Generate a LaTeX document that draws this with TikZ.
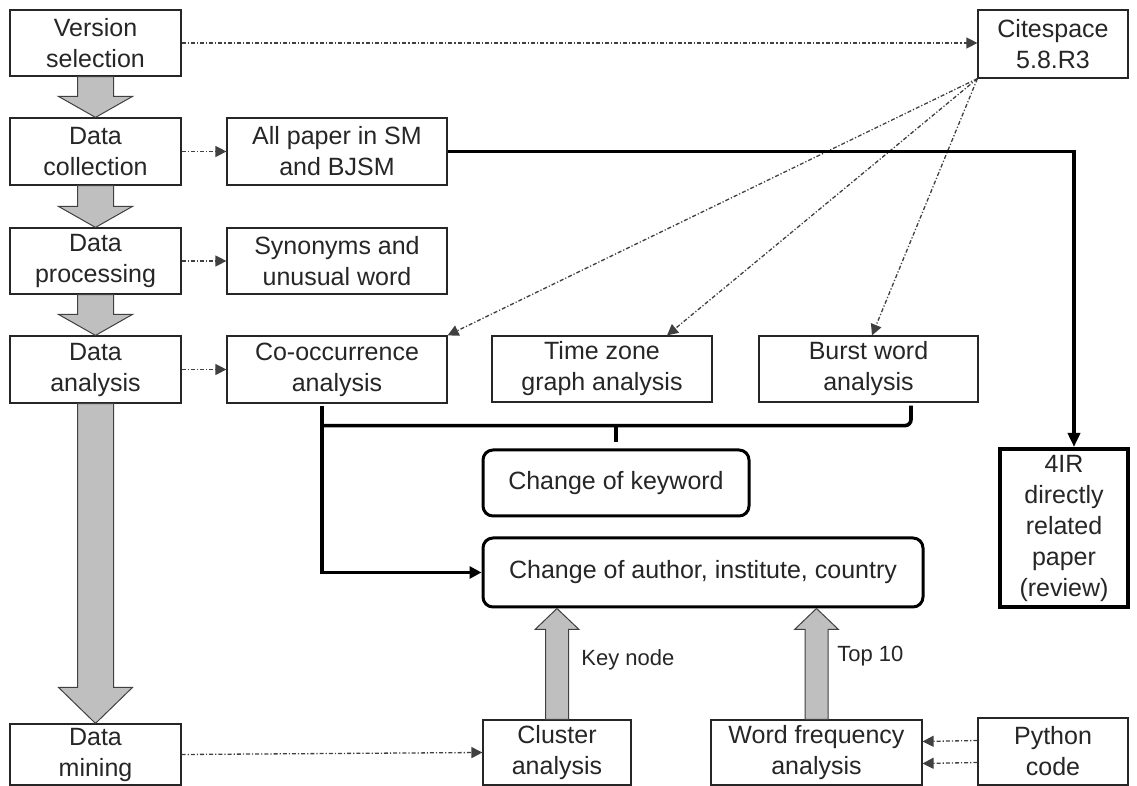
\documentclass[tikz,border=0pt]{standalone}
\usepackage{fontspec}
\setmainfont{Liberation Sans}
\usetikzlibrary{arrows.meta,calc}
\newcommand\blkdown[3]{%
  \draw[blk] ($(#1.south)+(-18,0)$) -- ($(#2.north)+(-18,-#3)$) -- ($(#2.north)+(-37,-#3)$) -- (#2.north) -- ($(#2.north)+(37,-#3)$) -- ($(#2.north)+(18,-#3)$) -- ($(#1.south)+(18,0)$) -- cycle;}
\newcommand\blkup[2]{%
  \draw[blk] ($(#1)+(-11.5,0)$) -- ($(#2)+(-11.5,21)$) -- ($(#2)+(-22,21)$) -- (#2) -- ($(#2)+(22,21)$) -- ($(#2)+(11.5,21)$) -- ($(#1)+(11.5,0)$) -- cycle;}
\begin{document}
\begin{tikzpicture}[x=0.5pt,y=-0.5pt,
  bx/.style 2 args={draw=black!85, line width=0.6pt, minimum width=#1*0.5pt, minimum height=#2*0.5pt, inner sep=0pt, align=center, font=\fontsize{12.5}{15.5}\selectfont, text=black!85},
  rbx/.style 2 args={bx={#1}{#2}, line width=1.5pt, draw=black, rounded corners=5pt},
  dd/.style={draw=black!75, line width=0.65pt, dash pattern=on 2pt off 1pt on 0.6pt off 1pt, -{Triangle[length=5.5pt,width=5.5pt]}},
  thk/.style={draw=black, line width=1.8pt},
  blk/.style={fill=black!25, draw=black!75, line width=0.5pt},
  lbl/.style={font=\fontsize{11}{13}\selectfont, text=black!85, anchor=west, inner sep=0pt}
]
\fill[white] (0,0) rectangle (1137,786);
\useasboundingbox (0,0) rectangle (1137,786);

% nodes
\node[bx={171}{66}] (vs) at (95.5,43) {Version\\selection};
\node[bx={171}{67}] (dc) at (95.5,151.5) {Data\\collection};
\node[bx={171}{66}] (dp) at (95.5,261) {Data\\processing};
\node[bx={171}{67}] (da) at (95.5,369.5) {Data\\analysis};
\node[bx={171}{61}] (dm) at (95.5,754.5) {Data\\mining};
\node[bx={220}{67}] (ap) at (337,151.5) {All paper in SM\\and BJSM};
\node[bx={220}{66}] (sy) at (337,261) {Synonyms and\\unusual word};
\node[bx={220}{67}] (co) at (337,369.5) {Co-occurrence\\analysis};
\node[bx={220}{66}] (tz) at (602,369) {Time zone\\graph analysis};
\node[bx={219}{66}] (bw) at (868.5,369) {Burst word\\analysis};
\node[bx={150}{68}] (cs) at (1053,44) {Citespace\\5.8.R3};
\node[bx={128}{158}, line width=2pt, draw=black] (ir) at (1064,528) {4IR\\directly\\related\\paper\\(review)};
\node[rbx={266}{66}] (ck) at (616,483) {Change of keyword};
\node[rbx={440}{69}] (ca) at (703,572.5) {Change of author, institute, country};
\node[bx={148}{65}] (cl) at (557,752.5) {Cluster\\analysis};
\node[bx={211}{65}] (wf) at (816.5,752.5) {Word frequency\\analysis};
\node[bx={150}{67}] (py) at (1053,751.5) {Python\\code};

% block arrows
\blkdown{vs}{dc}{21}
\blkdown{dc}{dp}{21}
\blkdown{dp}{da}{21}
\blkdown{da}{dm}{36}
\coordinate (t1) at (cl.north |- ca.south);
\coordinate (t2) at (wf.north |- ca.south);
\blkup{cl.north}{t1}
\blkup{wf.north}{t2}

% labels
\node[lbl] (kn) at ($(cl.north)+(24,-60)$) {Key node};
\node[lbl] (tp) at ($(wf.north)+(20.5,-63)$) {Top 10};

% dotted connectors
\draw[dd] (vs.east) -- (vs.east -| cs.west);
\draw[dd] (dc.east) -- (ap.west);
\draw[dd] (dp.east) -- (sy.west);
\draw[dd] (da.east) -- (co.west);
\draw[dd] (dm.east) -- (cl.west);
\draw[dd] (cs.south west) -- (co.north east);
\draw[dd] (cs.south west) -- ($(tz.north)+(65,0)$);
\draw[dd] (cs.south west) -- ($(bw.north)+(3.5,0)$);
\draw[dd] ([yshift=5.5pt]py.west) -- ([yshift=5.5pt]wf.east);
\draw[dd] ([yshift=-5.5pt]py.west) -- ([yshift=-5.5pt]wf.east);

% thick connectors
\draw[thk, -{Triangle[length=7pt,width=6pt]}] (ap.east) -| ($(ir.north)+(10,0)$);
\coordinate (jl) at ($(co.south)+(-15,22)$);
\draw[thk, -{Triangle[length=6pt,width=6pt]}] ($(co.south)+(-15,2)$) |- (ca.west);
\draw[thk, rounded corners=3pt] (jl) -| ($(bw.south)+(42.5,3)$);
\draw[thk] (ck.north |- jl) -- ($(ck.north)+(0,-6)$);
\end{tikzpicture}
\end{document}
